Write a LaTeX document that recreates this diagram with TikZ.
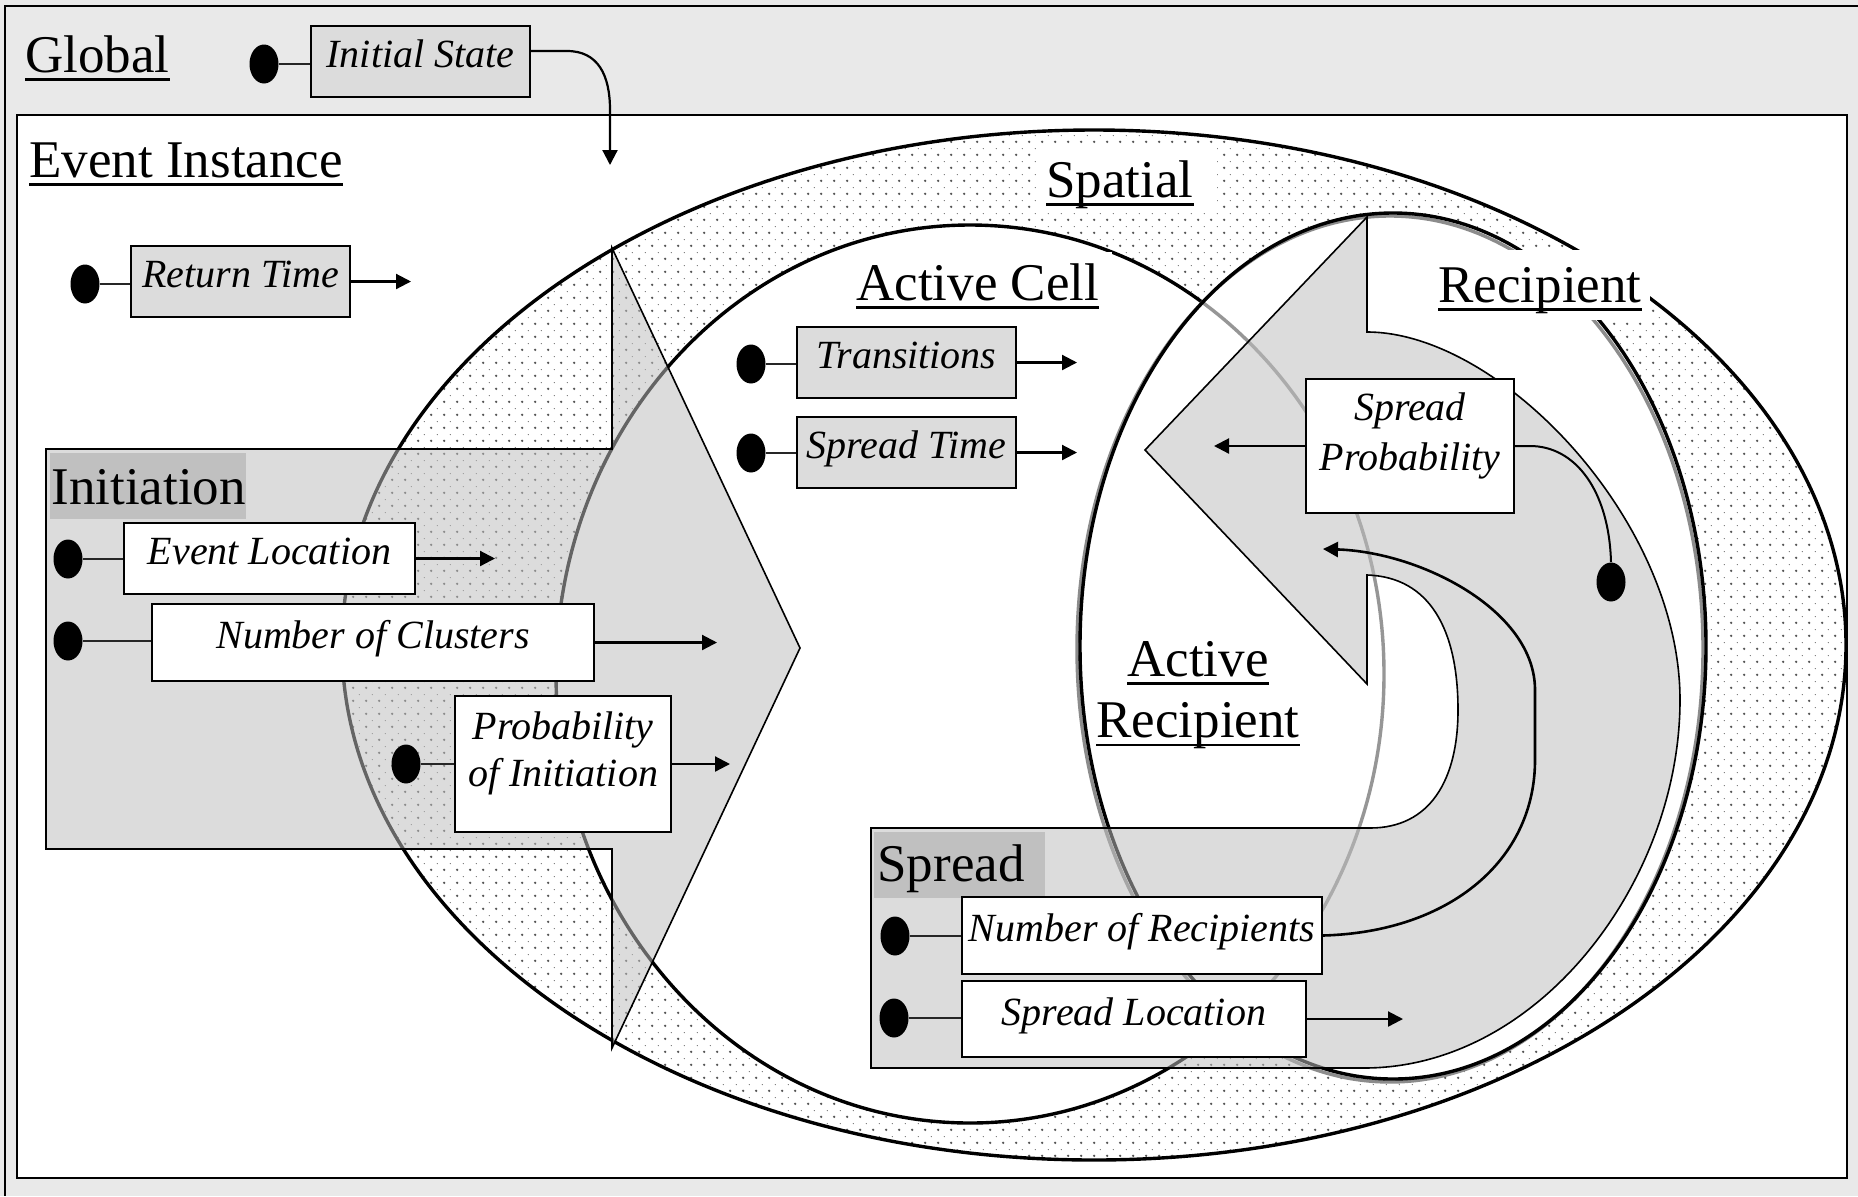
\documentclass[tikz,border=0pt]{standalone}
\usepackage{fontspec}
\setmainfont{Liberation Serif}
\usetikzlibrary{arrows.meta,patterns,shapes.geometric}

\pgfdeclarepatternformonly{spdots}{\pgfqpoint{0pt}{0pt}}{\pgfqpoint{6.5pt}{6.5pt}}{\pgfqpoint{6.5pt}{6.5pt}}{%
  \pgfpathcircle{\pgfqpoint{1.2pt}{1.2pt}}{0.68pt}\pgfusepath{fill}%
  \pgfpathcircle{\pgfqpoint{4.45pt}{4.45pt}}{0.28pt}\pgfusepath{fill}}

\definecolor{globalbg}{RGB}{233,233,233}
\definecolor{boxgray}{RGB}{220,220,220}
\definecolor{shapegray}{RGB}{190,190,190}
\definecolor{labgray}{RGB}{192,192,192}
\definecolor{acgray}{RGB}{150,150,150}
\definecolor{shadowgray}{RGB}{140,140,140}
\definecolor{dotgray}{RGB}{85,85,85}

\newsavebox\ulbox
\newcommand\myul[1]{\sbox\ulbox{#1}\rlap{\rule[-4.4pt]{\wd\ulbox}{1.3pt}}\usebox\ulbox}
\newcommand\hfont{\fontsize{26.5}{30.5}\selectfont}
\newcommand\bfontx{\fontsize{20}{23.5}\selectfont\itshape}

\begin{document}
\begin{tikzpicture}[x=0.5pt,y=-0.5pt,
  heading/.style={font=\hfont, inner sep=0pt, anchor=base west},
  boxtext/.style={font=\bfontx},
  graybox/.style={draw=black, line width=1pt, fill=boxgray, inner sep=0pt, text height=14pt, text depth=8pt, boxtext},
  whitebox/.style={draw=black, line width=1pt, fill=white, inner sep=0pt, text height=14pt, text depth=8pt, boxtext},
  blob/.style={ellipse, fill=black, minimum width=14.5pt, minimum height=19.5pt, inner sep=0pt},
  stub/.style={line width=0.9pt, draw=black!85},
  arr/.style={line width=1.1pt, -{Triangle[length=7.5pt,width=7.5pt]}},
  thickline/.style={line width=1.7pt},
  region/.style={fill=shapegray, fill opacity=0.53, draw=black, line width=0.8pt}
]
\useasboundingbox (0,0) rectangle (1858,1196);

% Global frame
\fill[globalbg] (0,0) rectangle (1858,1196);
\draw[line width=1.3pt] (1858,6) -- (5,6) -- (5,1196);

% Event Instance frame
\draw[fill=white, line width=1pt] (17,115) rectangle (1847,1178);

% Spatial ellipse
\fill[white] (1094,645) ellipse [x radius=752, y radius=515];
\fill[pattern=spdots, pattern color=dotgray] (1094,645) ellipse [x radius=752, y radius=515];
\draw[thickline] (1094,645) ellipse [x radius=752, y radius=515];

% Active Cell ellipse
\filldraw[fill=white, thickline] (970,674) ellipse [x radius=414, y radius=449];

% Recipient ellipse
\fill[white] (1393,646) ellipse [x radius=313, y radius=433];
\begin{scope}
  \clip (1393,646) ellipse [x radius=313, y radius=433];
  \draw[acgray, thickline] (970,674) ellipse [x radius=414, y radius=449];
\end{scope}
\draw[shadowgray, thickline] (1390,649) ellipse [x radius=313, y radius=433];
\draw[thickline] (1393,646) ellipse [x radius=313, y radius=433];

% Initiation region (box + arrow)
\path[region] (46,449) -- (612,449) -- (612,248) -- (800,648) -- (612,1048)
  -- (612,849) -- (46,849) -- cycle;

% Spread region (box + curved arrow)
\path[region] (871,828) -- (1370,828)
  .. controls (1430,828) and (1458,780) .. (1458,710)
  .. controls (1458,630) and (1430,577) .. (1367,575)
  -- (1367,684) -- (1145,450) -- (1367,217) -- (1367,332)
  .. controls (1500,332) and (1680,520) .. (1680,700)
  .. controls (1680,880) and (1540,1068) .. (1364,1068)
  -- (871,1068) -- cycle;

% Region labels
\node[fill=labgray, anchor=north west, minimum width=98pt, minimum height=33pt, inner sep=0pt] (initbg) at (50,453) {};
\node[heading] (initlab) at (51,504.6) {Initiation};
\node[fill=labgray, anchor=north west, minimum width=85.5pt, minimum height=33pt, inner sep=0pt] (spreadbg) at (874,832) {};
\node[heading] (spreadlab) at (877,881.7) {Spread};

% Headings
\node[heading] (global) at (25,72) {\myul{Global}};
\node[heading] (evinst) at (29,177) {\myul{Event Instance}};
\node[heading, fill=white, inner xsep=3pt, inner ysep=0pt, text height=25pt, text depth=8pt] (spatial) at (1040,197) {\myul{Spatial}\hspace*{8.5pt}};
\node[heading, fill=white, inner xsep=3pt, inner ysep=0pt, text height=24pt, text depth=7.5pt] (activecell) at (850,300) {\myul{Active Cell}\hspace*{3.5pt}};
\node[heading, fill=white, inner xsep=4pt, inner ysep=0pt, text height=26pt, text depth=9pt] (recipient) at (1430,302) {\myul{Recipient}};
\node[font=\hfont, inner sep=0pt, anchor=base] (actrec1) at (1198,676) {\myul{Active}};
\node[font=\hfont, inner sep=0pt, anchor=base] (actrec2) at (1198,737.5) {\myul{Recipient}};

% Global: Initial State
\node[graybox, minimum width=109.5pt, minimum height=35.5pt] (is) at (420.5,61.5) {Initial State};
\node[blob] (isdot) at (264,64) {};
\draw[stub] (isdot.east) -- (isdot -| is.west);
\coordinate (isend) at (610,165);
\draw[arr] ([yshift=5.25pt]is.east) -- ++(36,0) .. controls (598,51) and (610,75) .. (610,110) -- (isend);

% Event Instance: Return Time
\node[graybox, minimum width=109.5pt, minimum height=35.5pt] (rt) at (240.5,281.5) {Return Time};
\node[blob] (rtdot) at (85,284) {};
\draw[stub] (rtdot.east) -- (rtdot -| rt.west);
\draw[arr] (rt.east) -- ++(60,0);

% Initiation
\node[whitebox, minimum width=145.5pt, minimum height=35.5pt] (el) at (269.5,558.5) {Event Location};
\node[blob] (eldot) at (68,559) {};
\draw[stub] (eldot.east) -- (eldot -| el.west);
\draw[arr] (el.east) -- ++(79,0);

\node[whitebox, minimum width=221pt, minimum height=38.5pt] (nc) at (373,642.5) {Number of Clusters};
\node[blob] (ncdot) at (68,641) {};
\draw[stub] (ncdot.east) -- (ncdot -| nc.west);
\draw[arr] (nc.east) -- ++(122,0);

\node[whitebox, minimum width=108pt, minimum height=68pt] (pi) at (563,764) {};
\node[boxtext, align=center, inner sep=0pt] (pitext) at (563,753) {Probability\\of Initiation};
\node[blob] (pidot) at (406,764) {};
\draw[stub] (pidot.east) -- (pidot -| pi.west);
\draw[arr] (pi.east) -- ++(58,0);

% Active Cell
\node[graybox, minimum width=109.5pt, minimum height=35.5pt] (tr) at (906.5,362.5) {Transitions};
\node[blob] (trdot) at (751,364) {};
\draw[stub] (trdot.east) -- (trdot -| tr.west);
\draw[arr] (tr.east) -- ++(60,0);

\node[graybox, minimum width=109.5pt, minimum height=35.5pt] (st) at (906.5,452.5) {Spread Time};
\node[blob] (stdot) at (751,453) {};
\draw[stub] (stdot.east) -- (stdot -| st.west);
\draw[arr] (st.east) -- ++(60,0);

% Recipient: Spread Probability
\node[whitebox, minimum width=104pt, minimum height=67pt] (sp) at (1410,446) {};
\node[boxtext, align=center, inner sep=0pt] (sptext) at (1410,436) {Spread\\[1.5pt]Probability};
\draw[arr] (sp.west) -- ++(-91,0);
\node[blob] (spdot) at (1611,582) {};
\draw[line width=1pt] (sp.east) -- ++(15,0) .. controls (1575,446) and (1609,490) .. (spdot.north);

% Spread
\node[whitebox, minimum width=180pt, minimum height=38.5pt] (nr) at (1142,935.5) {Number of Recipients};
\node[blob] (nrdot) at (895,936) {};
\draw[stub] (nrdot.east) -- (nrdot -| nr.west);
\coordinate (nrend) at (1323,549);
\draw[arr, line width=1.3pt] (nr.east) .. controls (1450,932) and (1535,860) .. (1535,760)
  -- (1535,690) .. controls (1535,610) and (1420,552) .. (nrend);

\node[whitebox, minimum width=172pt, minimum height=38pt] (sl) at (1134,1019) {Spread Location};
\node[blob] (sldot) at (894,1018) {};
\draw[stub] (sldot.east) -- (sldot -| sl.west);
\draw[arr] (sl.east) -- ++(96,0);

\end{tikzpicture}
\end{document}
